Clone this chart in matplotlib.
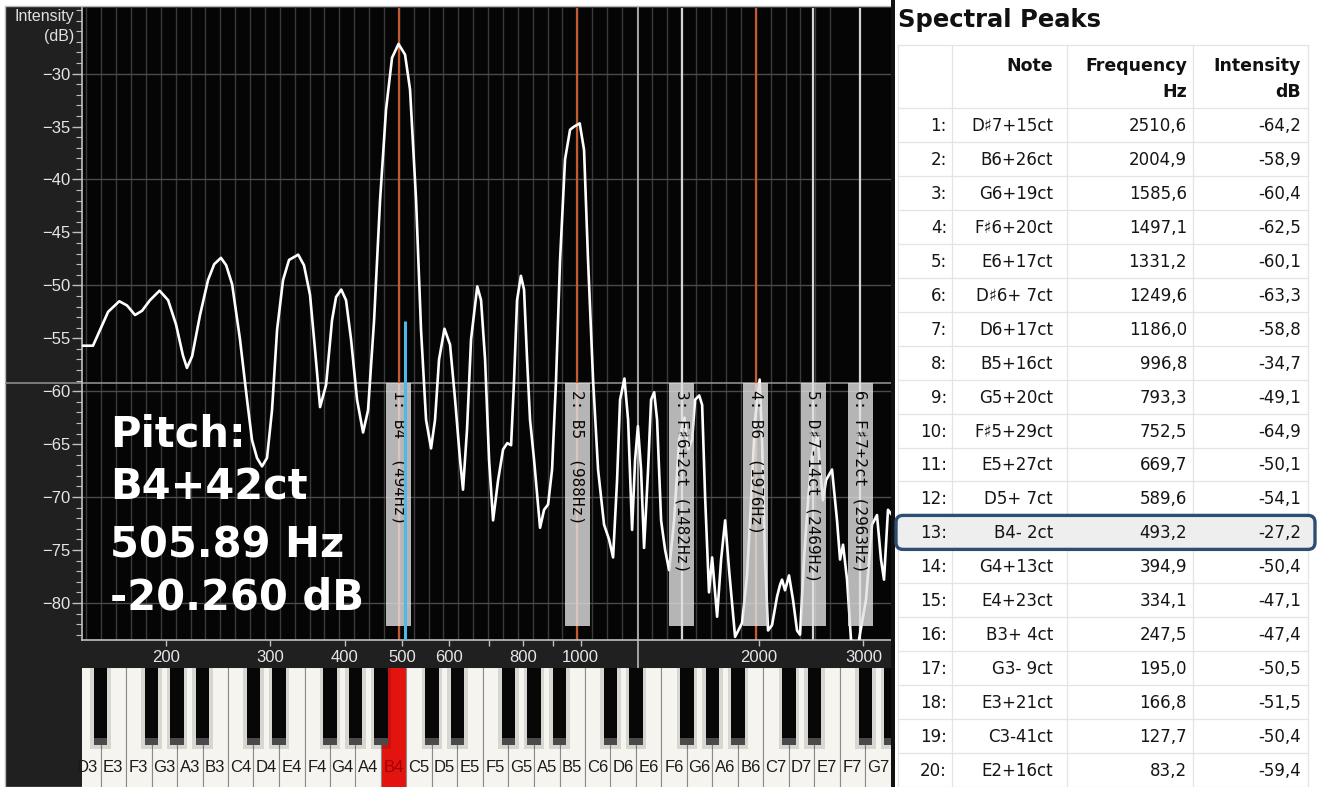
import numpy as np
import matplotlib
matplotlib.use("Agg")
import matplotlib.pyplot as plt
from matplotlib.patches import Rectangle, FancyBboxPatch
from matplotlib.ticker import FixedLocator, NullFormatter, FixedFormatter

# ---------------- data ----------------
spec_freq = [144.3, 150.6, 154.8, 159.7, 166.8, 171.9, 177.3, 182.2, 187.9, 195.0,
             201.6, 207.9, 213.5, 216.9, 221.3, 228.2, 235.4, 241.1, 247.5, 252.6,
             258.5, 266.5, 273.9, 279.2, 284.7, 290.3, 296.0, 301.8, 307.8, 315.0,
             322.4, 334.1, 341.7, 349.8, 356.7, 363.7, 372.3, 381.0, 387.0, 394.9,
             402.3, 410.2, 419.9, 429.8, 438.2, 448.6, 459.2, 469.9, 481.0, 493.2,
             505.9, 515.8, 528.0, 538.3, 548.9, 559.7, 568.4, 577.3, 589.6, 602.5,
             614.4, 626.4, 633.6, 643.6, 653.7, 669.7, 679.6, 690.3, 701.1, 712.1,
             726.1, 740.3, 752.5, 763.7, 772.6, 781.6, 793.3, 803.1, 812.6, 822.0,
             835.0, 854.6, 868.0, 881.6, 895.4, 909.4, 923.6, 941.7, 960.2, 975.3,
             996.8, 1013.8, 1029.6, 1049.9, 1070.5, 1095.7, 1117.2, 1134.8, 1152.5, 1166.0,
             1186.0, 1202.9, 1221.7, 1236.0, 1249.6, 1265.0, 1279.9, 1300.0, 1315.2, 1331.2,
             1346.2, 1367.4, 1388.9, 1410.6, 1438.4, 1466.6, 1497.1, 1518.8, 1542.5, 1560.4,
             1585.6, 1603.7, 1622.3, 1646.9, 1667.0, 1699.7, 1726.2, 1753.5, 1780.6, 1822.5,
             1872.5, 1909.3, 1939.2, 1969.4, 2004.9, 2023.6, 2047.3, 2071.4, 2103.5, 2145.2,
             2170.0, 2187.0, 2212.4, 2247.2, 2282.2, 2318.1, 2345.2, 2382.1, 2419.3, 2457.3,
             2510.6, 2534.9, 2564.2, 2594.5, 2655.5, 2707.6, 2739.5, 2771.8, 2815.0, 2858.8,
             2937.3, 3030.0, 3101.6, 3162.3, 3211.8, 3249.7, 3300.2, 3352.3]
spec_db = [-55.7, -55.7, -54.2, -52.5, -51.5, -51.9, -52.8, -52.4, -51.4, -50.5,
           -51.4, -53.7, -56.6, -57.8, -56.7, -52.8, -49.5, -48.0, -47.4, -48.1,
           -49.9, -55.1, -60.8, -64.6, -66.3, -67.1, -66.3, -61.8, -54.2, -49.5,
           -47.6, -47.1, -48.1, -50.9, -56.1, -61.5, -59.4, -53.3, -51.1, -50.4,
           -51.4, -55.1, -60.8, -63.9, -61.8, -53.3, -41.9, -33.4, -28.5, -27.2,
           -28.2, -31.5, -41.9, -54.2, -62.7, -65.4, -62.7, -57.0, -54.1, -55.6,
           -60.8, -66.5, -69.3, -63.6, -55.1, -50.1, -51.4, -57.0, -66.5, -72.2,
           -68.4, -65.5, -64.9, -65.1, -58.9, -51.4, -49.1, -50.4, -57.0, -62.7,
           -66.5, -72.9, -71.2, -70.7, -67.4, -58.9, -47.6, -38.1, -35.3, -35.0,
           -34.7, -37.2, -47.6, -58.9, -67.4, -72.6, -74.0, -75.7, -68.4, -60.8,
           -58.8, -62.7, -73.1, -66.5, -63.3, -67.4, -74.8, -67.4, -60.8, -60.1,
           -62.7, -72.2, -75.0, -76.9, -72.2, -64.6, -62.5, -65.5, -64.6, -60.8,
           -60.4, -61.3, -70.0, -79.0, -75.7, -81.3, -75.9, -72.2, -76.9, -83.2,
           -81.9, -77.4, -70.3, -62.7, -58.9, -64.6, -75.9, -82.6, -82.1, -79.4,
           -78.3, -77.8, -78.8, -77.4, -79.7, -82.6, -83.0, -75.9, -70.3, -66.0,
           -64.2, -67.4, -70.3, -68.4, -67.4, -72.2, -75.9, -74.5, -77.8, -83.5,
           -84.0, -79.7, -72.6, -71.7, -75.9, -77.8, -71.2, -71.7]

harm_freqs = [494, 988, 1482, 1976, 2469, 2963]
harm_labels = ["1: B4  (494Hz)", "2: B5  (988Hz)", "3: F\u266f6+2ct (1482Hz)",
               "4: B6  (1976Hz)", "5: D\u266f7-14ct (2469Hz)", "6: F\u266f7+2ct (2963Hz)"]
harm_is_octave = [True, True, False, True, False, False]
cursor_freq = 1250
pitch_freq = 505.89
pitch_marker_db = -53.4
threshold_db = -59.2
box_bottom_db = -82.2
pitch_lines = ["Pitch:", "B4+42ct", "505.89 Hz", "-20.260 dB"]

x_major = [200, 300, 400, 500, 600, 800, 1000, 2000, 3000]
x_minor = [700, 900]
y_major = [-80, -75, -70, -65, -60, -55, -50, -45, -40, -35, -30]

piano_keys = ["D3", "E3", "F3", "G3", "A3", "B3",
              "C4", "D4", "E4", "F4", "G4", "A4", "B4",
              "C5", "D5", "E5", "F5", "G5", "A5", "B5",
              "C6", "D6", "E6", "F6", "G6", "A6", "B6",
              "C7", "D7", "E7", "F7", "G7"]
active_key = "B4"

peak_idx = list(range(1, 21))
peak_notes = ["D\u266f7+15ct", "B6+26ct", "G6+19ct", "F\u266f6+20ct", "E6+17ct",
              "D\u266f6+ 7ct", "D6+17ct", "B5+16ct", "G5+20ct", "F\u266f5+29ct",
              "E5+27ct", "D5+ 7ct", "B4- 2ct", "G4+13ct", "E4+23ct",
              "B3+ 4ct", "G3- 9ct", "E3+21ct", "C3-41ct", "E2+16ct"]
peak_freqs = [2510.6, 2004.9, 1585.6, 1497.1, 1331.2, 1249.6, 1186.0, 996.8, 793.3, 752.5,
              669.7, 589.6, 493.2, 394.9, 334.1, 247.5, 195.0, 166.8, 127.7, 83.2]
peak_dbs = [-64.2, -58.9, -60.4, -62.5, -60.1, -63.3, -58.8, -34.7, -49.1, -64.9,
            -50.1, -54.1, -27.2, -50.4, -47.1, -47.4, -50.5, -51.5, -50.4, -59.4]
selected_row = 13

# ---------------- figure ----------------
W, H = 1322, 787
DPI = 100
fig = plt.figure(figsize=(W / DPI, H / DPI), dpi=DPI, facecolor="white")


def fx(px):
    return px / W


def fy(py):
    return 1 - py / H


# dark instrument panel
fig.patches.append(Rectangle((fx(5), 0), fx(892) - fx(5), fy(6), transform=fig.transFigure,
                             facecolor="#202020", edgecolor="#b8b8b8", lw=1.0, zorder=-10))

AX_L, AX_R, AX_T, AX_B = 82, 892, 8, 640
ax = fig.add_axes([fx(AX_L), fy(AX_B), fx(AX_R) - fx(AX_L), fy(AX_T) - fy(AX_B)])
ax.set_facecolor("#050505")
ax.set_xscale("log")
XMIN, XMAX = 144.3, 3352
ax.set_xlim(XMIN, XMAX)
ax.set_ylim(-83.5, -23.8)

# semitone grid (equal temperament) and dB grid
for n in range(-20, 32):
    f = 440 * 2 ** (n / 12)
    if XMIN < f < XMAX:
        ax.axvline(f, color="#3a3a3a", lw=1.0, zorder=0.5)
for yv in [-30, -40, -50, -60, -70, -80]:
    ax.axhline(yv, color="#4a4a4a", lw=1.0, zorder=0.6)

# threshold line spanning into the left margin
ax.axhline(threshold_db, xmin=-(AX_L - 6) / (AX_R - AX_L), xmax=1, clip_on=False,
           color="#8c8c8c", lw=1.2, zorder=0.7)

# harmonic lines
for f, octv in zip(harm_freqs, harm_is_octave):
    ax.axvline(f, color="#c45a30" if octv else "#d4d4d4", lw=1.6, zorder=1)
# cursor line reaching into tick strip
ax.axvline(cursor_freq, ymin=-28 / (AX_B - AX_T), ymax=1, clip_on=False,
           color="#b0b0b0", lw=1.3, zorder=1)

# spectrum
ax.plot(spec_freq, spec_db, color="white", lw=1.9, solid_joinstyle="round", zorder=3)

# harmonic label boxes
px_per_dec = (AX_R - AX_L) / np.log10(XMAX / XMIN)
fac = 10 ** (12.5 / px_per_dec)
for f, lab in zip(harm_freqs, harm_labels):
    ax.add_patch(Rectangle((f / fac, box_bottom_db), f * fac - f / fac,
                           threshold_db - box_bottom_db, facecolor="#e2e2e2",
                           alpha=0.8, lw=0, zorder=4))
    ax.text(f, threshold_db - 0.7, lab, rotation=-90, ha="center", va="top",
            family="DejaVu Sans Mono", fontsize=11.5, color="#080808", zorder=5)

# pitch marker
ax.plot([pitch_freq, pitch_freq], [pitch_marker_db, -83.5], color="#52b6ea", lw=2.2,
        zorder=6, solid_capstyle="butt")

# axes styling
for s in ["top", "right"]:
    ax.spines[s].set_visible(False)
for s in ["left", "bottom"]:
    ax.spines[s].set_color("#c0c0c0")
    ax.spines[s].set_linewidth(1.2)
ax.xaxis.set_major_locator(FixedLocator(x_major))
ax.xaxis.set_major_formatter(FixedFormatter([str(v) for v in x_major]))
ax.xaxis.set_minor_locator(FixedLocator(x_minor))
ax.xaxis.set_minor_formatter(NullFormatter())
ax.yaxis.set_major_locator(FixedLocator(y_major))
ax.yaxis.set_minor_locator(FixedLocator(list(range(-83, -23))))
ax.tick_params(axis="x", which="both", direction="out", length=4, width=1,
               color="#c0c0c0", labelcolor="#e6e6e6", labelsize=12, pad=3)
ax.tick_params(axis="y", which="major", direction="out", length=7, width=1,
               color="#c0c0c0", labelcolor="#e6e6e6", labelsize=12, pad=1)
ax.tick_params(axis="y", which="minor", direction="out", length=4, width=0.8,
               color="#c0c0c0")
for lab in ax.get_xticklabels() + ax.get_yticklabels():
    lab.set_family("Liberation Sans")

fig.text(fx(74), fy(17), "Intensity", ha="right", va="center", fontsize=11.5,
         color="#e0e0e0", family="Liberation Sans")
fig.text(fx(74), fy(37), "(dB)", ha="right", va="center", fontsize=11.5,
         color="#e0e0e0", family="Liberation Sans")

# big pitch readout
for line, base in zip(pitch_lines, [447, 500, 557, 610]):
    fig.text(fx(110), fy(base), line, ha="left", va="baseline", fontsize=30,
             weight="bold", color="white", family="DejaVu Sans", zorder=20)

# ---------------- piano ----------------
KEY_W, KEY0 = 25.5, 75
pax = fig.add_axes([fx(AX_L), 0, fx(AX_R) - fx(AX_L), fy(668)])
pax.set_xlim((AX_L - KEY0) / KEY_W, (AX_R - KEY0) / KEY_W)
pax.set_ylim(0, 119)
pax.axis("off")
for i, k in enumerate(piano_keys):
    on = (k == active_key)
    pax.add_patch(Rectangle((i, -1), 1, 121, facecolor="#e3140f" if on else "#f6f4ee",
                            edgecolor="#8a8a8a", lw=0.8, zorder=1))
    pax.text(i + 0.5, 20, k, ha="center", va="center", fontsize=12,
             family="Liberation Sans", color="#a00000" if on else "#1a1a1a", zorder=5)
for i, k in enumerate(piano_keys):
    if k[0] in "CDFGA":
        c = i + 1
        pax.add_patch(Rectangle((c - 0.40, 38), 0.80, 82, facecolor="#000000",
                                alpha=0.12, lw=0, zorder=2))
        pax.add_patch(Rectangle((c - 0.27, 42), 0.54, 78, facecolor="#070707",
                                lw=0, zorder=3))
        pax.add_patch(Rectangle((c - 0.27, 42), 0.54, 7, facecolor="#4a4a4a",
                                lw=0, zorder=4))

# ---------------- table ----------------
tax = fig.add_axes([fx(891), 0, fx(W) - fx(891), 1])
tax.set_xlim(891, W)
tax.set_ylim(H, 0)
tax.axis("off")
tax.add_patch(Rectangle((891, 0), 4, H, facecolor="#111111", lw=0, zorder=1))
tax.text(898, 27, "Spectral Peaks", fontsize=17.5, weight="bold", color="#111111",
         va="baseline", ha="left", family="DejaVu Sans")

ROW0, ROWH = 125, 33.95
grid_c = "#e4e4e4"
for xv in [898, 952, 1067, 1193, 1308]:
    tax.plot([xv, xv], [45, H], color=grid_c, lw=0.9, zorder=1)
tax.plot([898, 1308], [45, 45], color=grid_c, lw=0.9, zorder=1)
for r in range(21):
    yv = ROW0 - ROWH / 2 + r * ROWH
    tax.plot([898, 1308], [yv, yv], color=grid_c, lw=0.9, zorder=1)

hdr_kw = dict(fontsize=12.5, weight="bold", color="#111111", ha="right", va="baseline",
              family="DejaVu Sans")
tax.text(1053, 71, "Note", **hdr_kw)
tax.text(1187, 71, "Frequency", **hdr_kw)
tax.text(1187, 97, "Hz", **hdr_kw)
tax.text(1301, 71, "Intensity", **hdr_kw)
tax.text(1301, 97, "dB", **hdr_kw)

sel_y = ROW0 + (selected_row - 1) * ROWH
tax.add_patch(FancyBboxPatch((898, sel_y - 15), 415, 30,
                             boxstyle="round,pad=2,rounding_size=7",
                             facecolor="#eeeeee", edgecolor="#2d4d72", lw=2.4, zorder=2))

row_kw = dict(fontsize=12, color="#151515", ha="right", va="center",
              family="DejaVu Sans", zorder=3)
for idx, note, fr, db in zip(peak_idx, peak_notes, peak_freqs, peak_dbs):
    yv = ROW0 + (idx - 1) * ROWH + 1
    tax.text(947, yv, f"{idx}:", **row_kw)
    tax.text(1053, yv, note, **row_kw)
    tax.text(1187, yv, f"{fr:.1f}".replace(".", ","), **row_kw)
    tax.text(1301, yv, f"{db:.1f}".replace(".", ","), **row_kw)

fig.savefig("out.png", dpi=DPI, facecolor="white")
